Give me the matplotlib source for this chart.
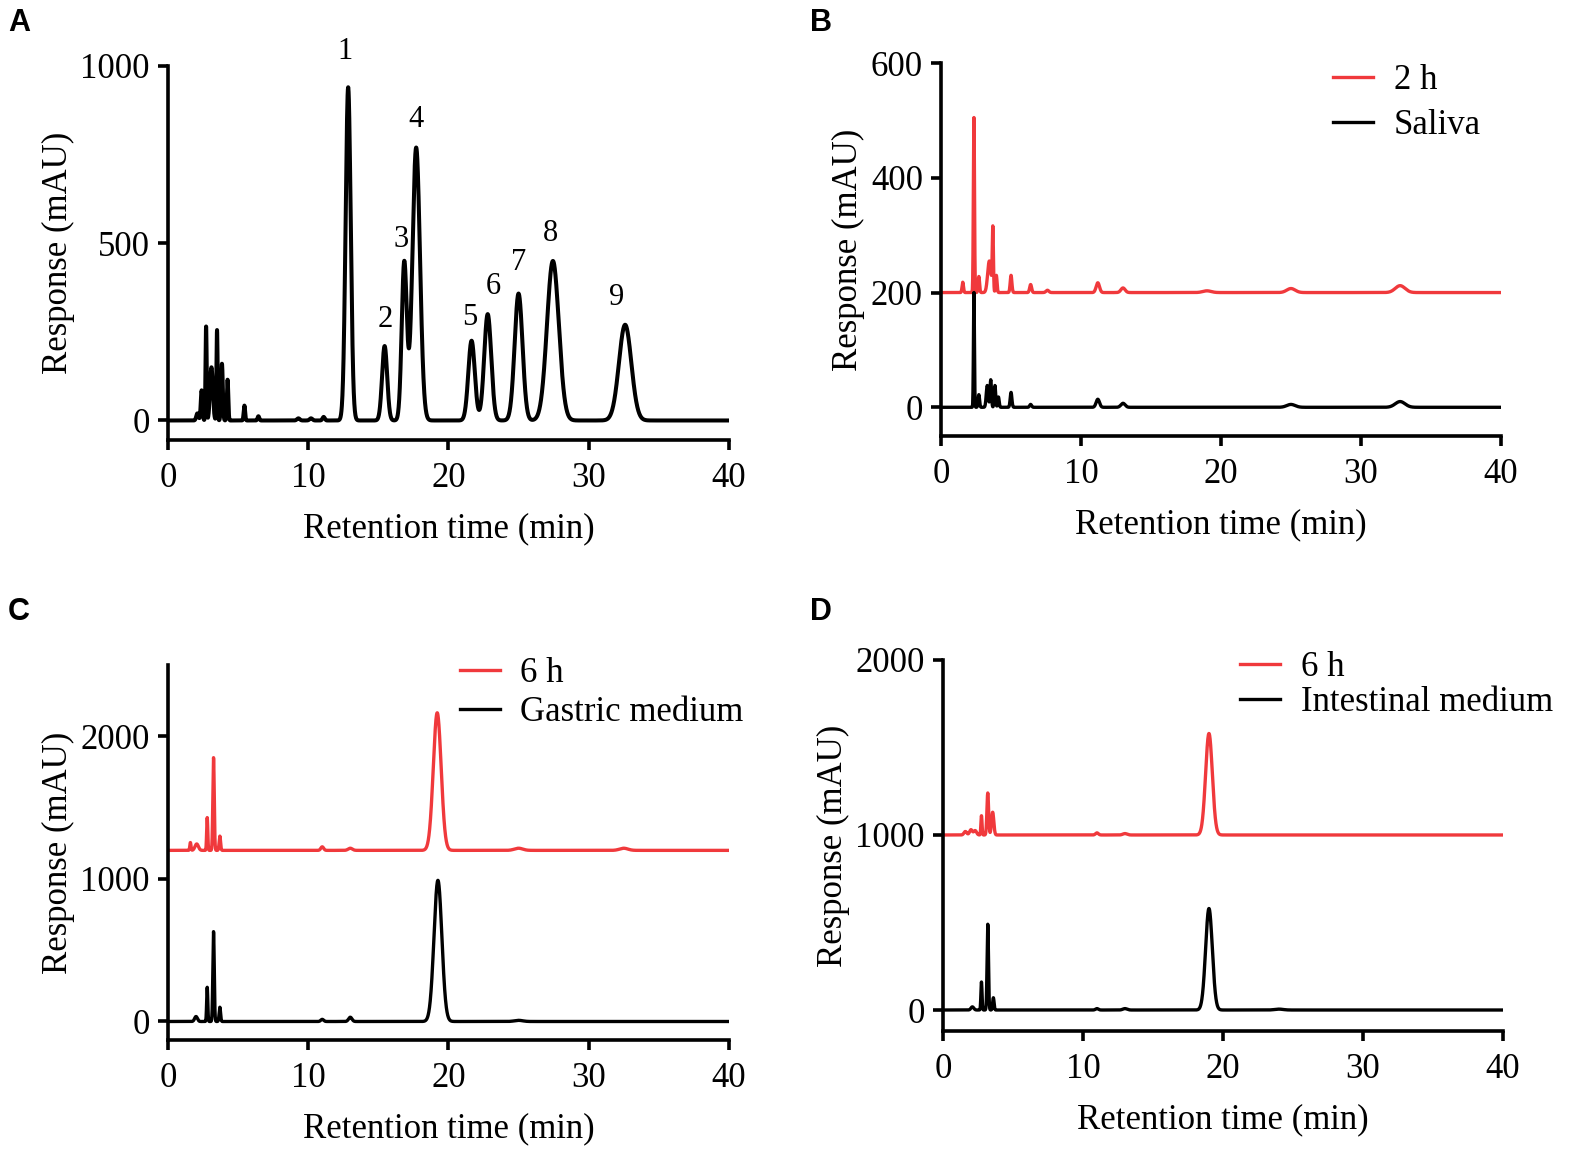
import numpy as np
import matplotlib
matplotlib.use("Agg")
import matplotlib.pyplot as plt

plt.rcParams["font.family"] = ["Liberation Serif", "DejaVu Serif"]

RED = "#F0393C"

# peak tables: retention time (min), height (mAU), width (min)
a_times = [2.1, 2.4, 2.72, 3.1, 3.5, 3.85, 4.25, 5.45, 6.45, 9.3, 10.2, 11.1,
           12.85, 15.45, 16.85, 17.7, 21.65, 22.8, 25.0, 27.45, 32.6]
a_heights = [20, 85, 265, 150, 255, 160, 115, 42, 12, 6, 6, 10,
             940, 210, 445, 770, 225, 300, 358, 450, 270]
a_widths = [0.08, 0.06, 0.04, 0.1, 0.04, 0.06, 0.05, 0.05, 0.06, 0.1, 0.1, 0.08,
            0.18, 0.18, 0.18, 0.27, 0.23, 0.25, 0.28, 0.42, 0.44]
a_labels = ["1", "2", "3", "4", "5", "6", "7", "8", "9"]
a_label_x = [12.6, 15.5, 16.6, 17.7, 21.5, 23.2, 25.0, 27.3, 32.0]
a_label_y = [1040, 285, 510, 848, 290, 377, 445, 527, 346]

b_red_base = 200
b_red_times = [1.55, 2.35, 2.7, 3.45, 3.7, 3.95, 5.0, 6.4, 7.6, 11.2, 13.0, 19.0, 25.0, 32.8]
b_red_heights = [18, 305, 28, 55, 110, 30, 30, 14, 4, 17, 8, 3, 7, 12]
b_red_widths = [0.05, 0.04, 0.05, 0.12, 0.04, 0.05, 0.06, 0.07, 0.1, 0.12, 0.15, 0.3, 0.3, 0.35]
b_blk_times = [2.35, 2.7, 3.3, 3.55, 3.85, 4.1, 5.0, 6.4, 11.2, 13.0, 25.0, 32.8]
b_blk_heights = [200, 22, 38, 48, 38, 18, 26, 5, 14, 7, 5, 10]
b_blk_widths = [0.035, 0.05, 0.07, 0.05, 0.05, 0.05, 0.06, 0.07, 0.12, 0.15, 0.3, 0.35]

c_red_base = 1200
c_red_times = [1.6, 2.05, 2.8, 3.25, 3.7, 11.0, 13.0, 19.2, 25.0, 32.5]
c_red_heights = [55, 45, 230, 650, 100, 25, 15, 965, 15, 15]
c_red_widths = [0.04, 0.12, 0.04, 0.05, 0.05, 0.1, 0.15, 0.28, 0.3, 0.3]
c_blk_times = [2.0, 2.8, 3.25, 3.7, 11.0, 13.0, 19.25, 25.0]
c_blk_heights = [35, 240, 630, 100, 15, 30, 990, 8]
c_blk_widths = [0.1, 0.04, 0.05, 0.05, 0.1, 0.12, 0.28, 0.3]

d_red_base = 1000
d_red_times = [1.6, 2.0, 2.3, 2.75, 3.2, 3.55, 11.0, 13.0, 19.0]
d_red_heights = [20, 30, 25, 110, 240, 130, 12, 8, 580]
d_red_widths = [0.1, 0.1, 0.1, 0.04, 0.06, 0.08, 0.1, 0.15, 0.24]
d_blk_times = [2.1, 2.75, 3.2, 3.6, 11.0, 13.0, 19.0, 24.0]
d_blk_heights = [18, 160, 490, 70, 8, 8, 580, 5]
d_blk_widths = [0.1, 0.04, 0.05, 0.05, 0.1, 0.15, 0.24, 0.3]

t = np.linspace(0, 40, 4001)


def trace(times, heights, widths, base=0):
    y = np.full_like(t, float(base))
    for t0, h, w in zip(times, heights, widths):
        y += h * np.exp(-0.5 * ((t - t0) / w) ** 2)
    return y


def style_axes(ax, ylim, yticks):
    ax.set_xlim(0, 40)
    ax.set_ylim(*ylim)
    ax.set_xticks([0, 10, 20, 30, 40])
    ax.set_yticks(yticks)
    for s in ["top", "right"]:
        ax.spines[s].set_visible(False)
    for s in ["left", "bottom"]:
        ax.spines[s].set_linewidth(2.6)
    ax.tick_params(direction="out", length=7, width=2.6, labelsize=25, pad=6)
    ax.tick_params(axis="x", pad=9)
    ax.set_xlabel("Retention time (min)", fontsize=25, labelpad=12)
    ax.set_ylabel("Response (mAU)", fontsize=25, labelpad=4)


fig = plt.figure(figsize=(15.95, 11.72), dpi=100)

# A
ax = fig.add_axes([0.1053, 0.6246, 0.3517, 0.3191])
ax.plot(t, trace(a_times, a_heights, a_widths), color="black", lw=2.9)
for lab, x, y in zip(a_labels, a_label_x, a_label_y):
    ax.text(x, y, lab, fontsize=22, ha="center", va="center", clip_on=False)
style_axes(ax, (-55, 1000), [0, 500, 1000])

# B
ax = fig.add_axes([0.59, 0.628, 0.351, 0.3182])
ax.plot(t, trace(b_red_times, b_red_heights, b_red_widths, b_red_base), color=RED, lw=2.4, label="2 h")
ax.plot(t, trace(b_blk_times, b_blk_heights, b_blk_widths), color="black", lw=2.4, label="Saliva")
style_axes(ax, (-50, 600), [0, 200, 400, 600])
ax.legend(loc="upper left", bbox_to_anchor=(0.70, 0.997), frameon=False, fontsize=25,
          handlelength=1.15, handletextpad=0.6, labelspacing=0.34, borderpad=0, borderaxespad=0)

# C
ax = fig.add_axes([0.1053, 0.1126, 0.3517, 0.32])
ax.plot(t, trace(c_red_times, c_red_heights, c_red_widths, c_red_base), color=RED, lw=2.4, label="6 h")
ax.plot(t, trace(c_blk_times, c_blk_heights, c_blk_widths), color="black", lw=2.4, label="Gastric medium")
style_axes(ax, (-130, 2500), [0, 1000, 2000])
ax.legend(loc="upper left", bbox_to_anchor=(0.52, 1.02), frameon=False, fontsize=25,
          handlelength=1.15, handletextpad=0.6, labelspacing=0.15, borderpad=0, borderaxespad=0)

# D
ax = fig.add_axes([0.5912, 0.1203, 0.3511, 0.3166])
ax.plot(t, trace(d_red_times, d_red_heights, d_red_widths, d_red_base), color=RED, lw=2.4, label="6 h")
ax.plot(t, trace(d_blk_times, d_blk_heights, d_blk_widths), color="black", lw=2.4, label="Intestinal medium")
style_axes(ax, (-120, 2000), [0, 1000, 2000])
ax.legend(loc="upper left", bbox_to_anchor=(0.53, 1.025), frameon=False, fontsize=25,
          handlelength=1.15, handletextpad=0.6, labelspacing=0.08, borderpad=0, borderaxespad=0)

for letter, x, y in [("A", 0.005, 0.98), ("B", 0.508, 0.98), ("C", 0.005, 0.478), ("D", 0.508, 0.478)]:
    fig.text(x, y, letter, fontsize=22, fontweight="bold", family="Liberation Sans", va="center")

fig.savefig("out.png", dpi=100)
